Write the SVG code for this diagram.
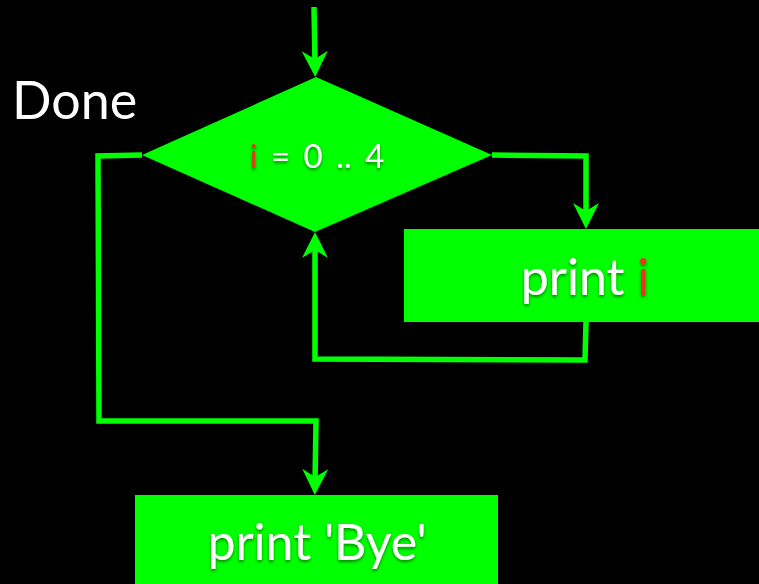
<svg xmlns="http://www.w3.org/2000/svg" width="759" height="584" viewBox="0 0 759 584">
  <style>
    .shape { fill: #00ff00; }
    .wire { fill: none; stroke: #00ff00; stroke-width: 5.5; stroke-linejoin: miter; marker-end: url(#head); }
    .label { font-family: Lato, "Open Sans", "DejaVu Sans", sans-serif; fill: #ffffff; }
    .shadowed { filter: url(#soft); }
    .var { fill: #e8341c; }
  </style>
  <defs>
    <marker id="head" markerUnits="userSpaceOnUse" viewBox="-16 -14 30 28" markerWidth="30" markerHeight="28" refX="0" refY="0" orient="auto">
      <path d="M12,0 L-14,-13 L-6,0 L-14,13 Z" fill="#00ff00"/>
    </marker>
    <filter id="soft" x="-10%" y="-20%" width="120%" height="150%">
      <feDropShadow dx="0" dy="2" stdDeviation="1.5" flood-color="#000000" flood-opacity="0.45"/>
    </filter>
  </defs>

  <rect width="759" height="584" fill="#000000"/>

  <g id="connectors">
    <path class="wire" d="M314,7 L315,65"/>
    <path class="wire" d="M492,155 L586,156 L586,217"/>
    <path class="wire" d="M586,322 L585,360 L315,359 L315,244"/>
    <path class="wire" d="M142,155 L98,156 L99,421 L316,421 L315,483"/>
  </g>

  <g id="done">
    <text class="label" x="12" y="119" font-size="52">Done</text>
  </g>

  <g id="loop">
    <polygon class="shape" points="316,77 492,155 315,232 142,155"/>
    <text class="label shadowed" x="317" y="168" font-size="33" word-spacing="5" text-anchor="middle"><tspan class="var">i</tspan> = 0 .. 4</text>
  </g>

  <g id="print-i">
    <rect class="shape" x="404" y="229" width="355" height="93"/>
    <text class="label shadowed" x="585" y="295" font-size="50" text-anchor="middle">print <tspan class="var">i</tspan></text>
  </g>

  <g id="print-bye">
    <rect class="shape" x="135" y="495" width="363" height="89"/>
    <text class="label shadowed" x="317" y="560" font-size="50" text-anchor="middle">print 'Bye'</text>
  </g>
</svg>
